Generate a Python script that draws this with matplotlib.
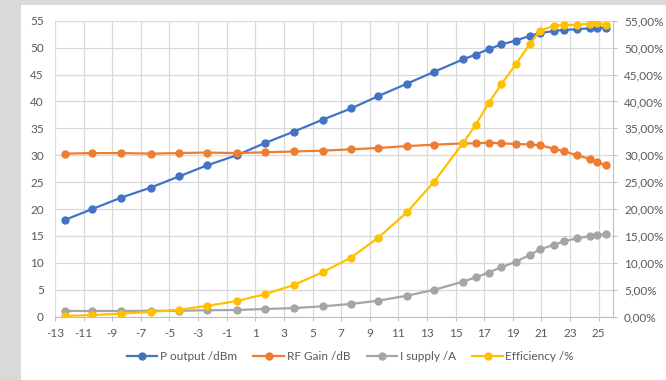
import numpy as np
import matplotlib
matplotlib.use("Agg")
import matplotlib.pyplot as plt
from matplotlib.ticker import FuncFormatter

plt.rcParams['font.family'] = ['Lato', 'DejaVu Sans']
plt.rcParams['axes.unicode_minus'] = False

# input power (dBm)
p_in = [-12.3, -10.4, -8.4, -6.3, -4.3, -2.4, -0.3, 1.7, 3.7, 5.7, 7.7, 9.6, 11.6, 13.5,
        15.5, 16.4, 17.3, 18.2, 19.2, 20.2, 20.9, 21.9, 22.6, 23.5, 24.4, 24.9, 25.5]
p_out = [18.0, 20.0, 22.1, 24.0, 26.1, 28.1, 30.0, 32.3, 34.4, 36.6, 38.7, 41.0, 43.3, 45.5,
         47.8, 48.7, 49.7, 50.6, 51.3, 52.2, 52.7, 53.1, 53.3, 53.4, 53.6, 53.7, 53.7]
rf_gain = [30.3, 30.4, 30.4, 30.3, 30.4, 30.5, 30.4, 30.55, 30.7, 30.85, 31.1, 31.35, 31.7, 31.97,
           32.2, 32.2, 32.35, 32.2, 32.1, 32.0, 31.85, 31.2, 30.7, 30.0, 29.3, 28.8, 28.1]
i_supply = [1.06, 1.06, 1.06, 1.1, 1.1, 1.2, 1.25, 1.43, 1.6, 1.93, 2.37, 2.98, 3.9, 5.0,
            6.5, 7.3, 8.2, 9.2, 10.2, 11.5, 12.5, 13.4, 14.0, 14.6, 14.95, 15.2, 15.3]
efficiency = [0.0015, 0.003, 0.0056, 0.0087, 0.013, 0.020, 0.029, 0.042, 0.059, 0.0825,
              0.110, 0.147, 0.194, 0.251, 0.322, 0.356, 0.3965, 0.432, 0.469, 0.507, 0.531,
              0.541, 0.542, 0.5425, 0.5445, 0.545, 0.5425]

c_blue = '#4472C4'
c_orange = '#ED7D31'
c_gray = '#A5A5A5'
c_yellow = '#FFC000'
txt = '#595959'
grid = '#D9D9D9'

fig = plt.figure(figsize=(6.66, 3.8), dpi=100)
fig.patch.set_facecolor('#D9D9D9')
# white chart area
fig.patches.append(plt.Rectangle((21 / 666, 0), 1, 1 - 5 / 380, transform=fig.transFigure,
                                 facecolor='white', edgecolor='none', zorder=-10))

ax = fig.add_axes([55 / 666, 1 - 316.7 / 380, (613 - 55) / 666, (316.7 - 20.7) / 380])
ax.set_facecolor('none')

kw = dict(marker='o', markersize=5, linewidth=1.6)
ax.plot(p_in, p_out, color=c_blue, label='P output /dBm', **kw)
ax.plot(p_in, rf_gain, color=c_orange, label='RF Gain /dB', **kw)
ax.plot(p_in, i_supply, color=c_gray, label='I supply /A', **kw)

ax.set_xlim(-13, 26)
ax.set_ylim(0, 55)
ax.set_xticks(np.arange(-13, 26, 2))
ax.set_yticks(np.arange(0, 56, 5))
ax.grid(True, color=grid, linewidth=0.9)
ax.set_axisbelow(True)
for s in ['top', 'right', 'left']:
    ax.spines[s].set_visible(False)
ax.spines['bottom'].set_color('#BFBFBF')
ax.tick_params(axis='y', length=0, colors=txt, labelsize=8.5, pad=8)
ax.tick_params(axis='x', length=3, color='#BFBFBF', labelcolor=txt, labelsize=8.5, pad=5)

ax2 = ax.twinx()
ax2.plot(p_in, efficiency, color=c_yellow, label='Efficiency /%', **kw)
ax2.set_ylim(0, 0.55)
ax2.set_yticks(np.arange(0, 0.551, 0.05))
ax2.yaxis.set_major_formatter(FuncFormatter(lambda v, p: f'{v * 100:.2f}%'.replace('.', ',')))
for s in ['top', 'left', 'bottom']:
    ax2.spines[s].set_visible(False)
ax2.spines['right'].set_color('#BFBFBF')
ax2.tick_params(axis='y', length=3, color='#BFBFBF', labelcolor=txt, labelsize=8.5, pad=5)

h1, l1 = ax.get_legend_handles_labels()
h2, l2 = ax2.get_legend_handles_labels()
fig.legend(h1 + h2, l1 + l2, loc='center', bbox_to_anchor=(0.526, 1 - 357 / 380), ncol=4,
           frameon=False, fontsize=8.5, labelcolor=txt, handlelength=2.6, handletextpad=0.2,
           columnspacing=1.4)

fig.savefig('out.png', dpi=100, facecolor=fig.get_facecolor())
